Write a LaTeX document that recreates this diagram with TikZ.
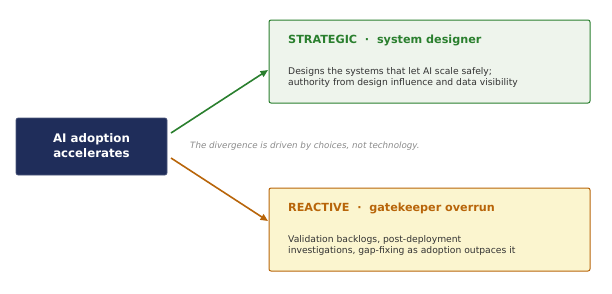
\documentclass[tikz,border=0pt]{standalone}
\usepackage{fontspec}
\setmainfont{DejaVu Sans}
\usetikzlibrary{arrows.meta}
\definecolor{navy}{HTML}{1F2D5A}
\definecolor{sgreen}{HTML}{2A7F2E}
\definecolor{sgreenfill}{HTML}{EEF4EC}
\definecolor{rorange}{HTML}{B8650A}
\definecolor{rfill}{HTML}{FBF5CF}
\definecolor{note}{HTML}{8A8A8A}
\definecolor{bodytxt}{HTML}{333333}
\begin{document}
\begin{tikzpicture}[x=1pt,y=-1pt,
  srcbox/.style={draw=navy!80!white, fill=navy, rounded corners=2pt, line width=0.6pt},
  outbox/.style={rounded corners=2pt, line width=1pt},
  conn/.style={line width=1.6pt, -{Triangle[length=7.5pt,width=6.5pt]}},
  ttl/.style={anchor=west, inner sep=0pt, font=\bfseries\fontsize{11.2}{13}\selectfont},
  bdy/.style={anchor=west, align=left, text=bodytxt, font=\fontsize{9.2}{11}\selectfont, inner sep=0pt}]
\useasboundingbox (0,0) rectangle (612,293);
\draw[srcbox] (16,118) rectangle (167,175);
\node[text=white, align=center, font=\bfseries\fontsize{11.8}{15}\selectfont] (src) at (91.5,146) {AI adoption\\accelerates};
\coordinate (srcA) at (171,133);
\coordinate (srcB) at (171,158);
\draw[outbox, draw=sgreen, fill=sgreenfill] (269,20) rectangle (590,103);
\coordinate (strA) at (268,70);
\node[ttl, text=sgreen] (strt) at (288,40) {STRATEGIC~~·~~system designer};
\node[bdy] (strb) at (288,77) {Designs the systems that let AI scale safely;\\authority from design influence and data visibility};
\draw[outbox, draw=rorange, fill=rfill] (269,188) rectangle (590,271);
\coordinate (reaA) at (268,221);
\node[ttl, text=rorange] (reat) at (288,208.5) {REACTIVE~~·~~gatekeeper overrun};
\node[bdy] (reab) at (288,245.5) {Validation backlogs, post-deployment\\investigations, gap-fixing as adoption outpaces it};
\node[anchor=west, inner sep=0pt, text=note, font=\itshape\fontsize{8.7}{10}\selectfont] (div) at (190,146) {The divergence is driven by choices, not technology.};
\draw[conn, draw=sgreen, fill=sgreen] (srcA) -- (strA);
\draw[conn, draw=rorange, fill=rorange] (srcB) -- (reaA);
\end{tikzpicture}
\end{document}
